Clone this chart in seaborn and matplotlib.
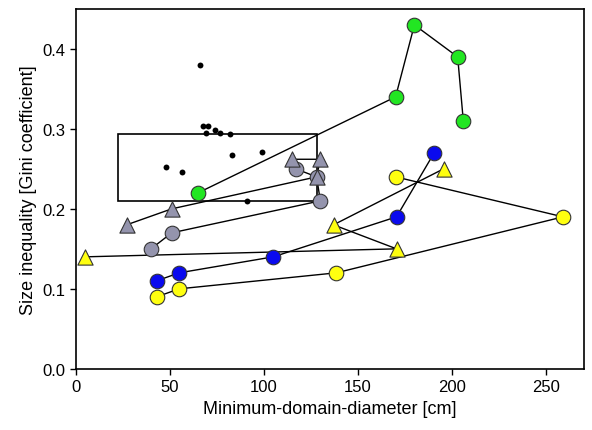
import matplotlib
matplotlib.use("Agg")
import matplotlib.pyplot as plt
import matplotlib.patches as patches
import seaborn as sns
import pandas as pd

# series (diameter cm, Gini)
green_x = [65, 170, 180, 203, 206]
green_y = [0.22, 0.34, 0.43, 0.39, 0.31]

grey_circ_x = [40, 51, 130, 128, 117]
grey_circ_y = [0.15, 0.17, 0.21, 0.24, 0.25]

grey_tri_x = [27, 51, 128, 130, 115]
grey_tri_y = [0.18, 0.20, 0.24, 0.262, 0.262]

blue_x = [43, 55, 105, 170.5, 190.5]
blue_y = [0.11, 0.12, 0.14, 0.19, 0.27]

yellow_circ_x = [43, 55, 138.5, 259, 170]
yellow_circ_y = [0.09, 0.10, 0.12, 0.19, 0.24]

yellow_tri_x = [5, 170.5, 137, 195.5]
yellow_tri_y = [0.14, 0.15, 0.18, 0.25]

dots_x = [66, 67.4, 70.4, 69.1, 74.1, 76.6, 82.1, 83.3, 98.9, 48.2, 56.2, 90.8]
dots_y = [0.38, 0.303, 0.303, 0.295, 0.298, 0.295, 0.293, 0.267, 0.271, 0.252, 0.246, 0.21]

# rectangle (range box)
box_x0, box_x1 = 22.5, 128
box_y0, box_y1 = 0.21, 0.294

sns.set_style("ticks")
plt.rcParams['font.family'] = ['Liberation Sans', 'DejaVu Sans']

fig = plt.figure(figsize=(5.92, 4.31), dpi=100)
ax = fig.add_axes([0.128, 0.142, 0.858, 0.835])

ax.add_patch(patches.Rectangle((box_x0, box_y0), box_x1 - box_x0, box_y1 - box_y0,
                               fill=False, edgecolor="black", linewidth=1.2, zorder=1))

series = [
    (grey_circ_x, grey_circ_y, "#9494ad", "o"),
    (grey_tri_x, grey_tri_y, "#9494ad", "^"),
    (green_x, green_y, "#22e622", "o"),
    (blue_x, blue_y, "#0a0aee", "o"),
    (yellow_circ_x, yellow_circ_y, "#ffff10", "o"),
    (yellow_tri_x, yellow_tri_y, "#ffff10", "^"),
]
for xs, ys, col, mk in series:
    d = pd.DataFrame({"x": xs, "y": ys})
    sns.lineplot(data=d, x="x", y="y", sort=False, estimator=None, color="black",
                 linewidth=1.0, ax=ax, zorder=2)
    ms = 110 if mk == "o" else 120
    sns.scatterplot(data=d, x="x", y="y", marker=mk, color=col, edgecolor="#333333",
                    linewidth=0.8, s=ms, ax=ax, zorder=3)

d = pd.DataFrame({"x": dots_x, "y": dots_y})
sns.scatterplot(data=d, x="x", y="y", color="black", s=18, linewidth=0, ax=ax, zorder=4)

ax.set_xlim(0, 270)
ax.set_ylim(0, 0.45)
ax.set_xticks([0, 50, 100, 150, 200, 250])
ax.set_yticks([0.0, 0.1, 0.2, 0.3, 0.4])
ax.set_yticklabels(["0.0", "0.1", "0.2", "0.3", "0.4"])
ax.tick_params(direction="out", length=4, width=1, labelsize=12, colors="black")
ax.set_xlabel("Minimum-domain-diameter [cm]", fontsize=13, color="black")
ax.set_ylabel("Size inequality [Gini coefficient]", fontsize=13, color="black")
for s in ax.spines.values():
    s.set_linewidth(1.2)
    s.set_color("black")

fig.savefig("out.png", dpi=100)
